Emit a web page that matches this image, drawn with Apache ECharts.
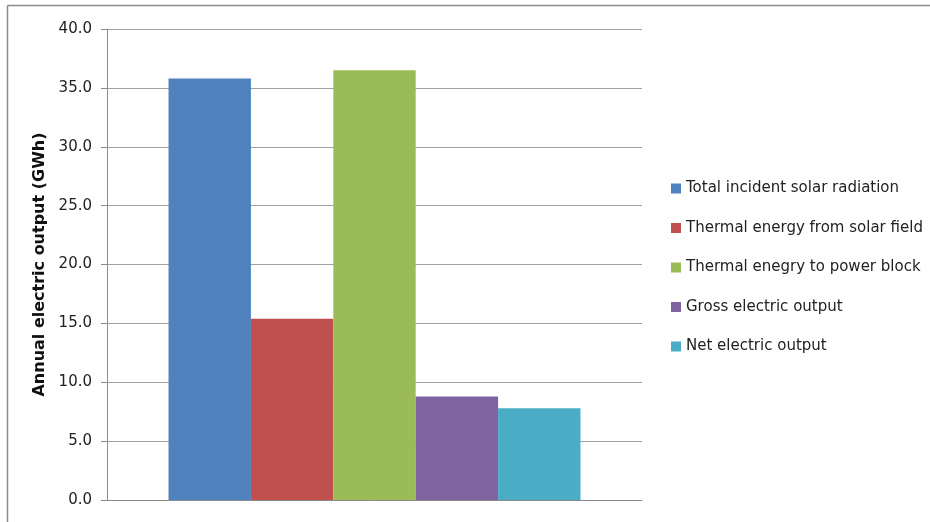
<!DOCTYPE html>
<html>
<head>
<meta charset="utf-8">
<script src="https://cdn.jsdelivr.net/npm/echarts@6/dist/echarts.min.js"></script>
<style>
  html, body { margin: 0; padding: 0; background: #fff; }
  #chart { width: 930px; height: 522px; }
</style>
</head>
<body>
<div id="chart"></div>
<script>
// Annual energy flow of the plant (GWh)
const seriesNames = [
  'Total incident solar radiation',
  'Thermal energy from solar field',
  'Thermal enegry to power block',
  'Gross electric output',
  'Net electric output'
];
const seriesValues = [35.8, 15.4, 36.5, 8.8, 7.8];
const seriesColors = ['#4F81BD', '#C0504D', '#9BBB59', '#8064A2', '#4BACC6'];
const categories = [''];
const yTicks = { min: 0, max: 40, interval: 5 };
const yAxisTitle = 'Annual electric output (GWh)';

const chart = echarts.init(document.getElementById('chart'), null, { renderer: 'canvas' });

const textFont = 'DejaVu Sans';

chart.setOption({
  animation: false,
  backgroundColor: '#ffffff',
  graphic: [
    // frame around the chart area (top and left edges)
    { type: 'line', shape: { x1: 7.5, y1: 5.5, x2: 930, y2: 5.5 }, style: { stroke: '#8c8c8c', lineWidth: 1.5 } },
    { type: 'line', shape: { x1: 7.5, y1: 5.5, x2: 7.5, y2: 522 }, style: { stroke: '#8c8c8c', lineWidth: 1.5 } }
  ],
  grid: { left: 107, right: 288, top: 29, bottom: 22, containLabel: false },
  legend: {
    orient: 'vertical',
    left: 666,
    top: 176,
    itemWidth: 10,
    itemHeight: 10,
    itemGap: 24.5,
    icon: 'rect',
    textStyle: { fontFamily: textFont, fontSize: 15, color: '#222' },
    data: seriesNames
  },
  xAxis: {
    type: 'category',
    data: categories,
    axisLine: { show: true, lineStyle: { color: '#8c8c8c', width: 1 } },
    axisTick: { show: false },
    axisLabel: { show: false }
  },
  yAxis: {
    type: 'value',
    min: yTicks.min,
    max: yTicks.max,
    interval: yTicks.interval,
    name: yAxisTitle,
    nameLocation: 'middle',
    nameGap: 54,
    nameTextStyle: { fontFamily: textFont, fontSize: 16, fontWeight: 'bold', color: '#111' },
    axisLine: { show: true, lineStyle: { color: '#8c8c8c', width: 1 } },
    axisTick: { show: true, length: 6, lineStyle: { color: '#8c8c8c' } },
    axisLabel: {
      fontFamily: textFont, fontSize: 15, color: '#222', margin: 15,
      formatter: v => v.toFixed(1)
    },
    splitLine: { show: true, lineStyle: { color: '#a0a0a0', width: 1 } }
  },
  series: seriesNames.map((name, i) => ({
    name,
    type: 'bar',
    data: [seriesValues[i]],
    barGap: '0%',
    barCategoryGap: '23%',
    itemStyle: { color: seriesColors[i] }
  }))
});
</script>
</body>
</html>
